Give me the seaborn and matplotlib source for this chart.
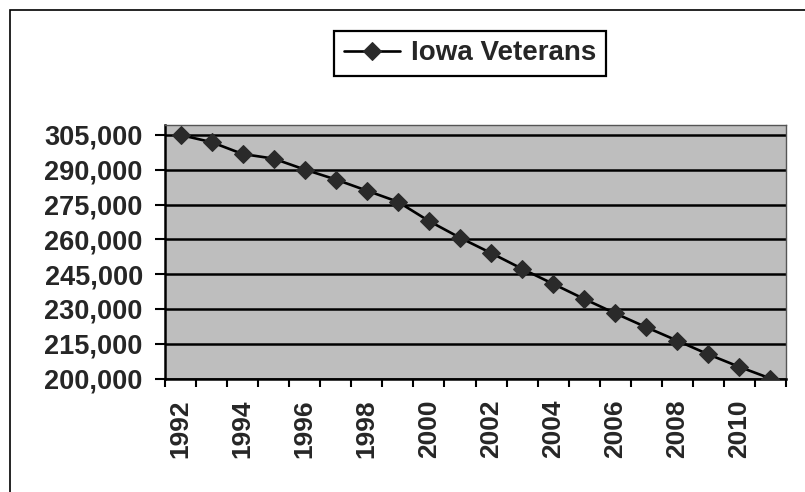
import matplotlib
matplotlib.use("Agg")
import matplotlib.pyplot as plt
from matplotlib.patches import Rectangle
from matplotlib.ticker import FuncFormatter
import numpy as np
import pandas as pd
import seaborn as sns

years = list(range(1992, 2012))
veterans = [305000, 301900, 296800, 294800, 290100, 285800, 281000, 276200,
            267900, 260700, 254100, 247300, 240800, 234300, 228100, 222100,
            216300, 210400, 205000, 200000]
y_ticks = [200000, 215000, 230000, 245000, 260000, 275000, 290000, 305000]
x_labels = list(range(1992, 2011, 2))
series_name = "Iowa Veterans"

sns.set_style("white")
plt.rcParams["font.family"] = ["Liberation Sans", "DejaVu Sans"]
plt.rcParams["font.weight"] = "bold"

df = pd.DataFrame({"year": years, "value": veterans})

fig = plt.figure(figsize=(8.05, 4.92), dpi=100)
ax = fig.add_axes([165 / 805, 1 - 378.5 / 492, (786 - 165) / 805, (378.5 - 125) / 492])
ax.set_facecolor("#bebebe")

sns.lineplot(data=df, x="year", y="value", ax=ax, color="black", linewidth=1.9,
             marker="D", markersize=9, markerfacecolor="#2a2a2a",
             markeredgecolor="#2a2a2a", label=series_name, zorder=3)

ax.set_xlim(1991.5, 2011.5)
ax.set_ylim(200000, 309300)
ax.set_yticks(y_ticks)
ax.yaxis.set_major_formatter(FuncFormatter(lambda v, p: f"{int(v):,}"))
ax.set_xticks(x_labels)
ax.set_xticklabels([str(y) for y in x_labels], rotation=90)
ax.set_xticks(np.arange(1991.5, 2012, 1.0), minor=True)

ax.grid(axis="y", color="black", linewidth=1.8, zorder=1)
ax.set_axisbelow(True)
ax.set_xlabel("")
ax.set_ylabel("")

ax.tick_params(axis="y", which="major", direction="out", length=7, width=1.5,
               color="black", pad=9, labelsize=19.5, left=True)
ax.tick_params(axis="x", which="major", length=0, pad=15, labelsize=19)
ax.tick_params(axis="x", which="minor", direction="out", length=6, width=1.5,
               color="black", bottom=True)
for lbl in ax.get_xticklabels() + ax.get_yticklabels():
    lbl.set_fontweight("bold")

for side in ["left", "bottom"]:
    ax.spines[side].set_color("black")
    ax.spines[side].set_linewidth(1.8)
for side in ["top", "right"]:
    ax.spines[side].set_color("#555555")
    ax.spines[side].set_linewidth(1.0)

ax.get_legend().remove()
handles, labels = ax.get_legend_handles_labels()
leg = fig.legend(handles, labels, loc="center", bbox_to_anchor=(470 / 805, 1 - 53.5 / 492),
                 frameon=True, fancybox=False, edgecolor="black", framealpha=1,
                 prop={"size": 20, "weight": "bold"}, handlelength=2.0,
                 borderpad=0.35, handletextpad=0.4)
leg.get_frame().set_linewidth(1.6)

fig.patches.append(Rectangle((10 / 805, -0.1), 1.2, 1 - 10 / 492 + 0.1,
                             transform=fig.transFigure, fill=False,
                             edgecolor="black", linewidth=1.2))

fig.savefig("out.png", dpi=100)
